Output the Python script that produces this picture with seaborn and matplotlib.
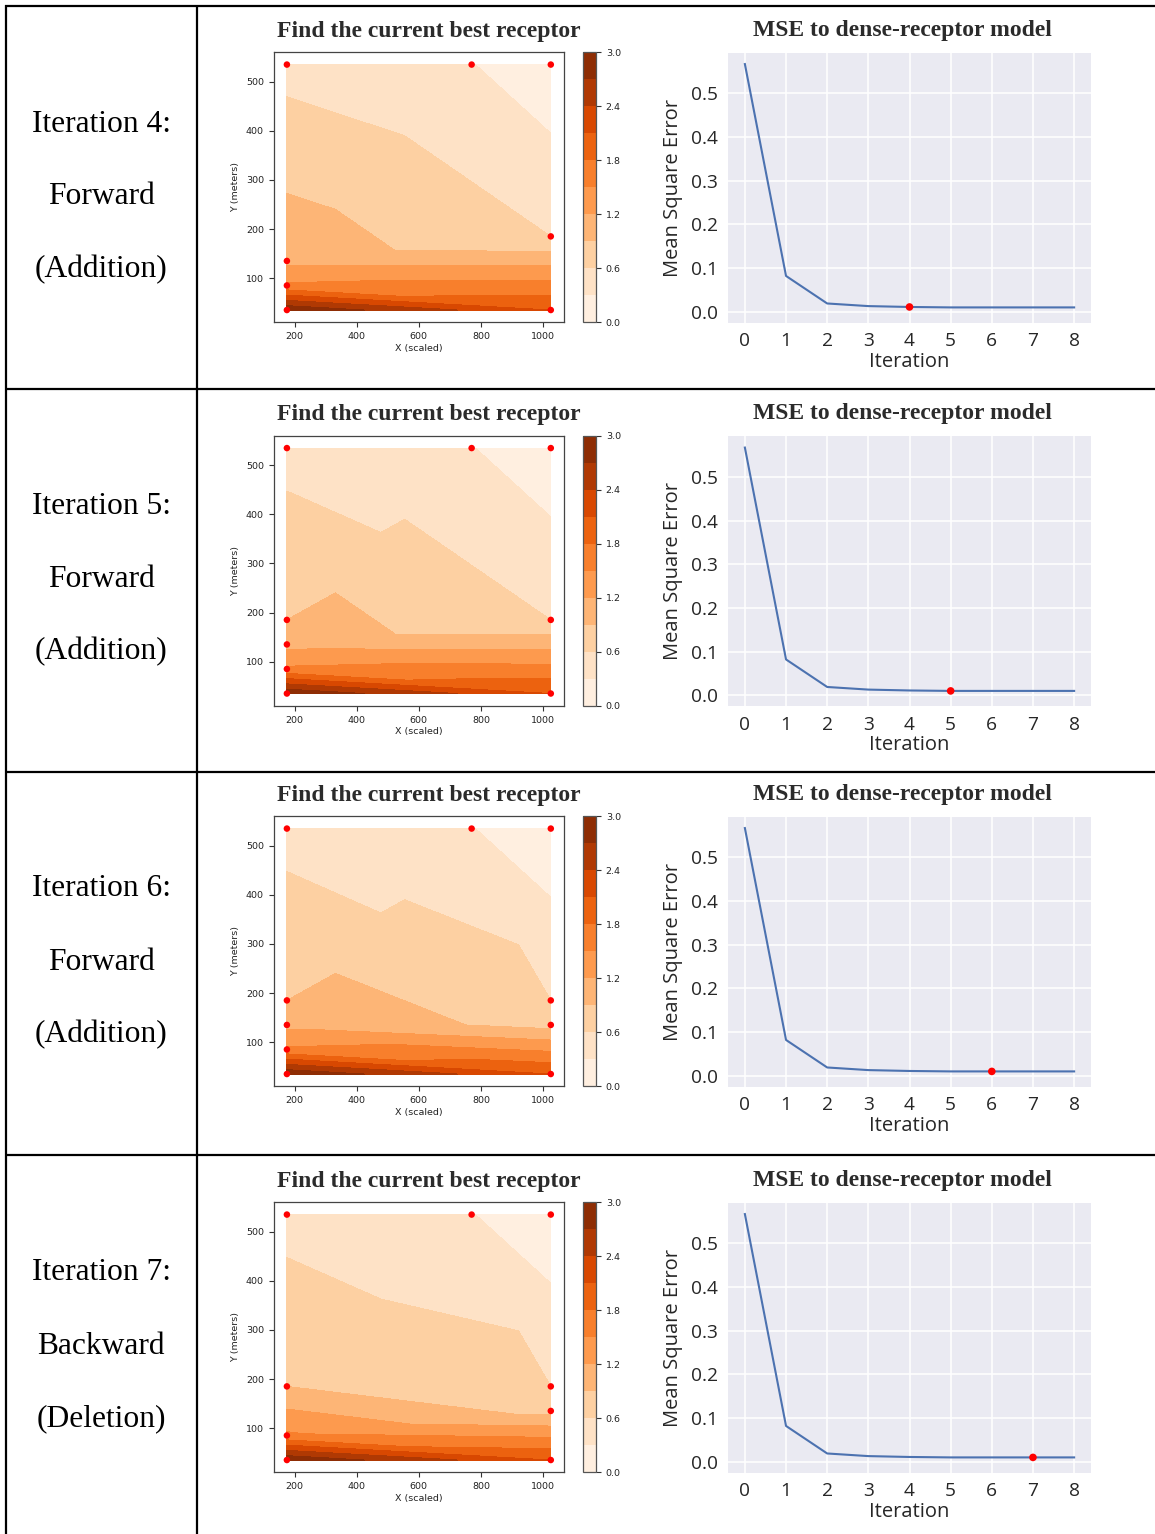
import numpy as np
import matplotlib
matplotlib.use("Agg")
import matplotlib.pyplot as plt
import matplotlib.tri as mtri
from matplotlib.lines import Line2D
import seaborn as sns
import pandas as pd

# ---------------- data ----------------
# receptor locations (x scaled, y meters) and their concentration values
recv_x = [175, 770, 1025, 1025, 1025, 175, 175, 175, 175, 1025]
recv_y = [535, 535, 535, 185, 135, 185, 135, 85, 35, 35]
recv_val = [0.50, 0.31, 0.10, 0.60, 0.80, 0.90, 1.11, 1.55, 2.95, 2.10]

iteration_ids = [4, 5, 6, 7]
step_names = ["Forward", "Forward", "Forward", "Backward"]
step_kinds = ["(Addition)", "(Addition)", "(Addition)", "(Deletion)"]

# receptors selected at each iteration (indices into recv_*)
active_sets = [
    [0, 1, 2, 3, 6, 7, 8, 9],
    [0, 1, 2, 3, 5, 6, 7, 8, 9],
    [0, 1, 2, 3, 4, 5, 6, 7, 8, 9],
    [0, 1, 2, 3, 4, 5, 7, 8, 9],
]
# triangulation of the selected receptors (indices into recv_*)
triangle_sets = [
    [(0, 1, 6), (1, 6, 3), (1, 3, 2), (6, 3, 9), (6, 7, 9), (7, 8, 9)],
    [(0, 1, 5), (5, 1, 6), (1, 6, 3), (1, 3, 2), (6, 3, 9), (6, 7, 9), (7, 8, 9)],
    [(0, 1, 5), (5, 1, 6), (1, 6, 4), (1, 4, 3), (1, 3, 2), (6, 4, 9), (6, 7, 9), (7, 8, 9)],
    [(0, 1, 5), (1, 5, 4), (1, 4, 3), (1, 3, 2), (5, 7, 4), (7, 4, 9), (7, 8, 9)],
]

mse_iter = [0, 1, 2, 3, 4, 5, 6, 7, 8]
mse_vals = [0.567, 0.082, 0.019, 0.013, 0.011, 0.010, 0.010, 0.010, 0.010]

contour_levels = np.linspace(0, 3, 11)

# ---------------- layout ----------------
W, H = 1155, 1534
fig = plt.figure(figsize=(W / 100, H / 100), dpi=100)
fig.patch.set_facecolor("white")


def rect(l, t, r, b):
    return [l / W, 1 - b / H, (r - l) / W, (b - t) / H]


def fy(y):
    return 1 - y / H


def fx(x):
    return x / W


# table lines
line_kw = dict(color="black", lw=1.6, transform=fig.transFigure, solid_capstyle="butt")
for xv in [6, 197]:
    fig.add_artist(Line2D([fx(xv), fx(xv)], [fy(5), fy(1534)], **line_kw))
for yv in [6, 389, 772, 1155]:
    fig.add_artist(Line2D([fx(5), fx(1155)], [fy(yv), fy(yv)], **line_kw))

row_offsets = [0, 383.5, 764, 1150]
label_offsets = [0, 382, 765, 1149]

serif = ["Liberation Serif", "DejaVu Serif"]
sans = ["Open Sans", "DejaVu Sans"]
small = 6.8

x_all = np.array(recv_x, dtype=float)
y_all = np.array(recv_y, dtype=float)
v_all = np.array(recv_val, dtype=float)

for i, it in enumerate(iteration_ids):
    off = row_offsets[i]
    loff = label_offsets[i]

    # left label cell
    fig.text(fx(101), fy(124 + loff), f"Iteration {it}:", family=serif, fontsize=22.7,
             ha="center", va="center")
    fig.text(fx(101), fy(197 + loff), step_names[i], family=serif, fontsize=22.7,
             ha="center", va="center")
    fig.text(fx(101), fy(270 + loff), step_kinds[i], family=serif, fontsize=22.7,
             ha="center", va="center")

    # ---- contour panel ----
    ax = fig.add_axes(rect(273.7, 52.3 + off, 564, 322.3 + off))
    cax = fig.add_axes(rect(583, 52.3 + off, 596, 322.3 + off))

    act = active_sets[i]
    remap = {g: k for k, g in enumerate(act)}
    tris = [[remap[a], remap[b], remap[c]] for a, b, c in triangle_sets[i]]
    tri = mtri.Triangulation(x_all[act], y_all[act], triangles=tris)
    cs = ax.tricontourf(tri, v_all[act], levels=contour_levels, cmap="Oranges")

    df_pts = pd.DataFrame({"x": x_all[act], "y": y_all[act]})
    sns.scatterplot(data=df_pts, x="x", y="y", ax=ax, color="red", s=22,
                    edgecolor="none", zorder=5)
    ax.set_xlim(132.5, 1067.5)
    ax.set_ylim(10, 560)
    ax.set_facecolor("white")
    ax.set_xticks([200, 400, 600, 800, 1000])
    ax.set_yticks([100, 200, 300, 400, 500])
    ax.tick_params(labelsize=small, length=3.5, width=0.8, color="#333333",
                   labelcolor="#222222", direction="out")
    ax.set_xlabel("X (scaled)", fontsize=small, family="DejaVu Sans", color="#222222",
                  labelpad=2)
    ax.set_ylabel("Y (meters)", fontsize=small, family="DejaVu Sans", color="#222222",
                  labelpad=4)
    for sp in ax.spines.values():
        sp.set_color("#444444")
        sp.set_linewidth(0.9)
        sp.set_visible(True)
    ax.grid(False)

    cb = fig.colorbar(cs, cax=cax)
    cb.set_ticks([0.0, 0.6, 1.2, 1.8, 2.4, 3.0])
    cb.ax.tick_params(labelsize=small, length=3.5, width=0.8, color="#333333",
                      labelcolor="#222222")
    cb.outline.set_edgecolor("#555555")
    cb.outline.set_linewidth(0.9)

    fig.text(fx(429), fy(36.5 + off), "Find the current best receptor", family=serif,
             fontsize=17.0, fontweight="bold", color="#2b2b2b", ha="center",
             va="baseline")

    # ---- MSE panel ----
    ax2 = fig.add_axes(rect(728, 52.7 + off, 1091, 322.7 + off))
    ax2.set_facecolor("#EAEAF2")
    df_mse = pd.DataFrame({"Iteration": mse_iter, "MSE": mse_vals})
    sns.lineplot(data=df_mse, x="Iteration", y="MSE", ax=ax2, color="#4C72B0",
                 linewidth=1.5, zorder=3)
    cur = df_mse[df_mse["Iteration"] == it]
    sns.scatterplot(data=cur, x="Iteration", y="MSE", ax=ax2, color="red", s=30,
                    edgecolor="none", zorder=4)
    ax2.set_xlim(-0.41, 8.41)
    ax2.set_ylim(-0.025, 0.593)
    ax2.set_xticks(range(0, 9))
    ax2.set_yticks([0.0, 0.1, 0.2, 0.3, 0.4, 0.5])
    ax2.set_yticklabels(["0.0", "0.1", "0.2", "0.3", "0.4", "0.5"])
    ax2.grid(True, color="white", linewidth=1.1)
    ax2.set_axisbelow(True)
    for sp in ax2.spines.values():
        sp.set_visible(False)
    ax2.tick_params(length=0, pad=7, labelsize=13.8, labelcolor="#262626")
    for lab in ax2.get_xticklabels() + ax2.get_yticklabels():
        lab.set_family(sans)
    ax2.set_xlabel("Iteration", fontsize=14.5, family=sans, color="#262626", labelpad=1)
    ax2.set_ylabel("Mean Square Error", fontsize=14.5, family=sans, color="#262626",
                   labelpad=6)

    fig.text(fx(902), fy(36 + off), "MSE to dense-receptor model", family=serif,
             fontsize=17.0, fontweight="bold", color="#2b2b2b", ha="center",
             va="baseline")

fig.savefig("out.png", dpi=100, facecolor="white")
